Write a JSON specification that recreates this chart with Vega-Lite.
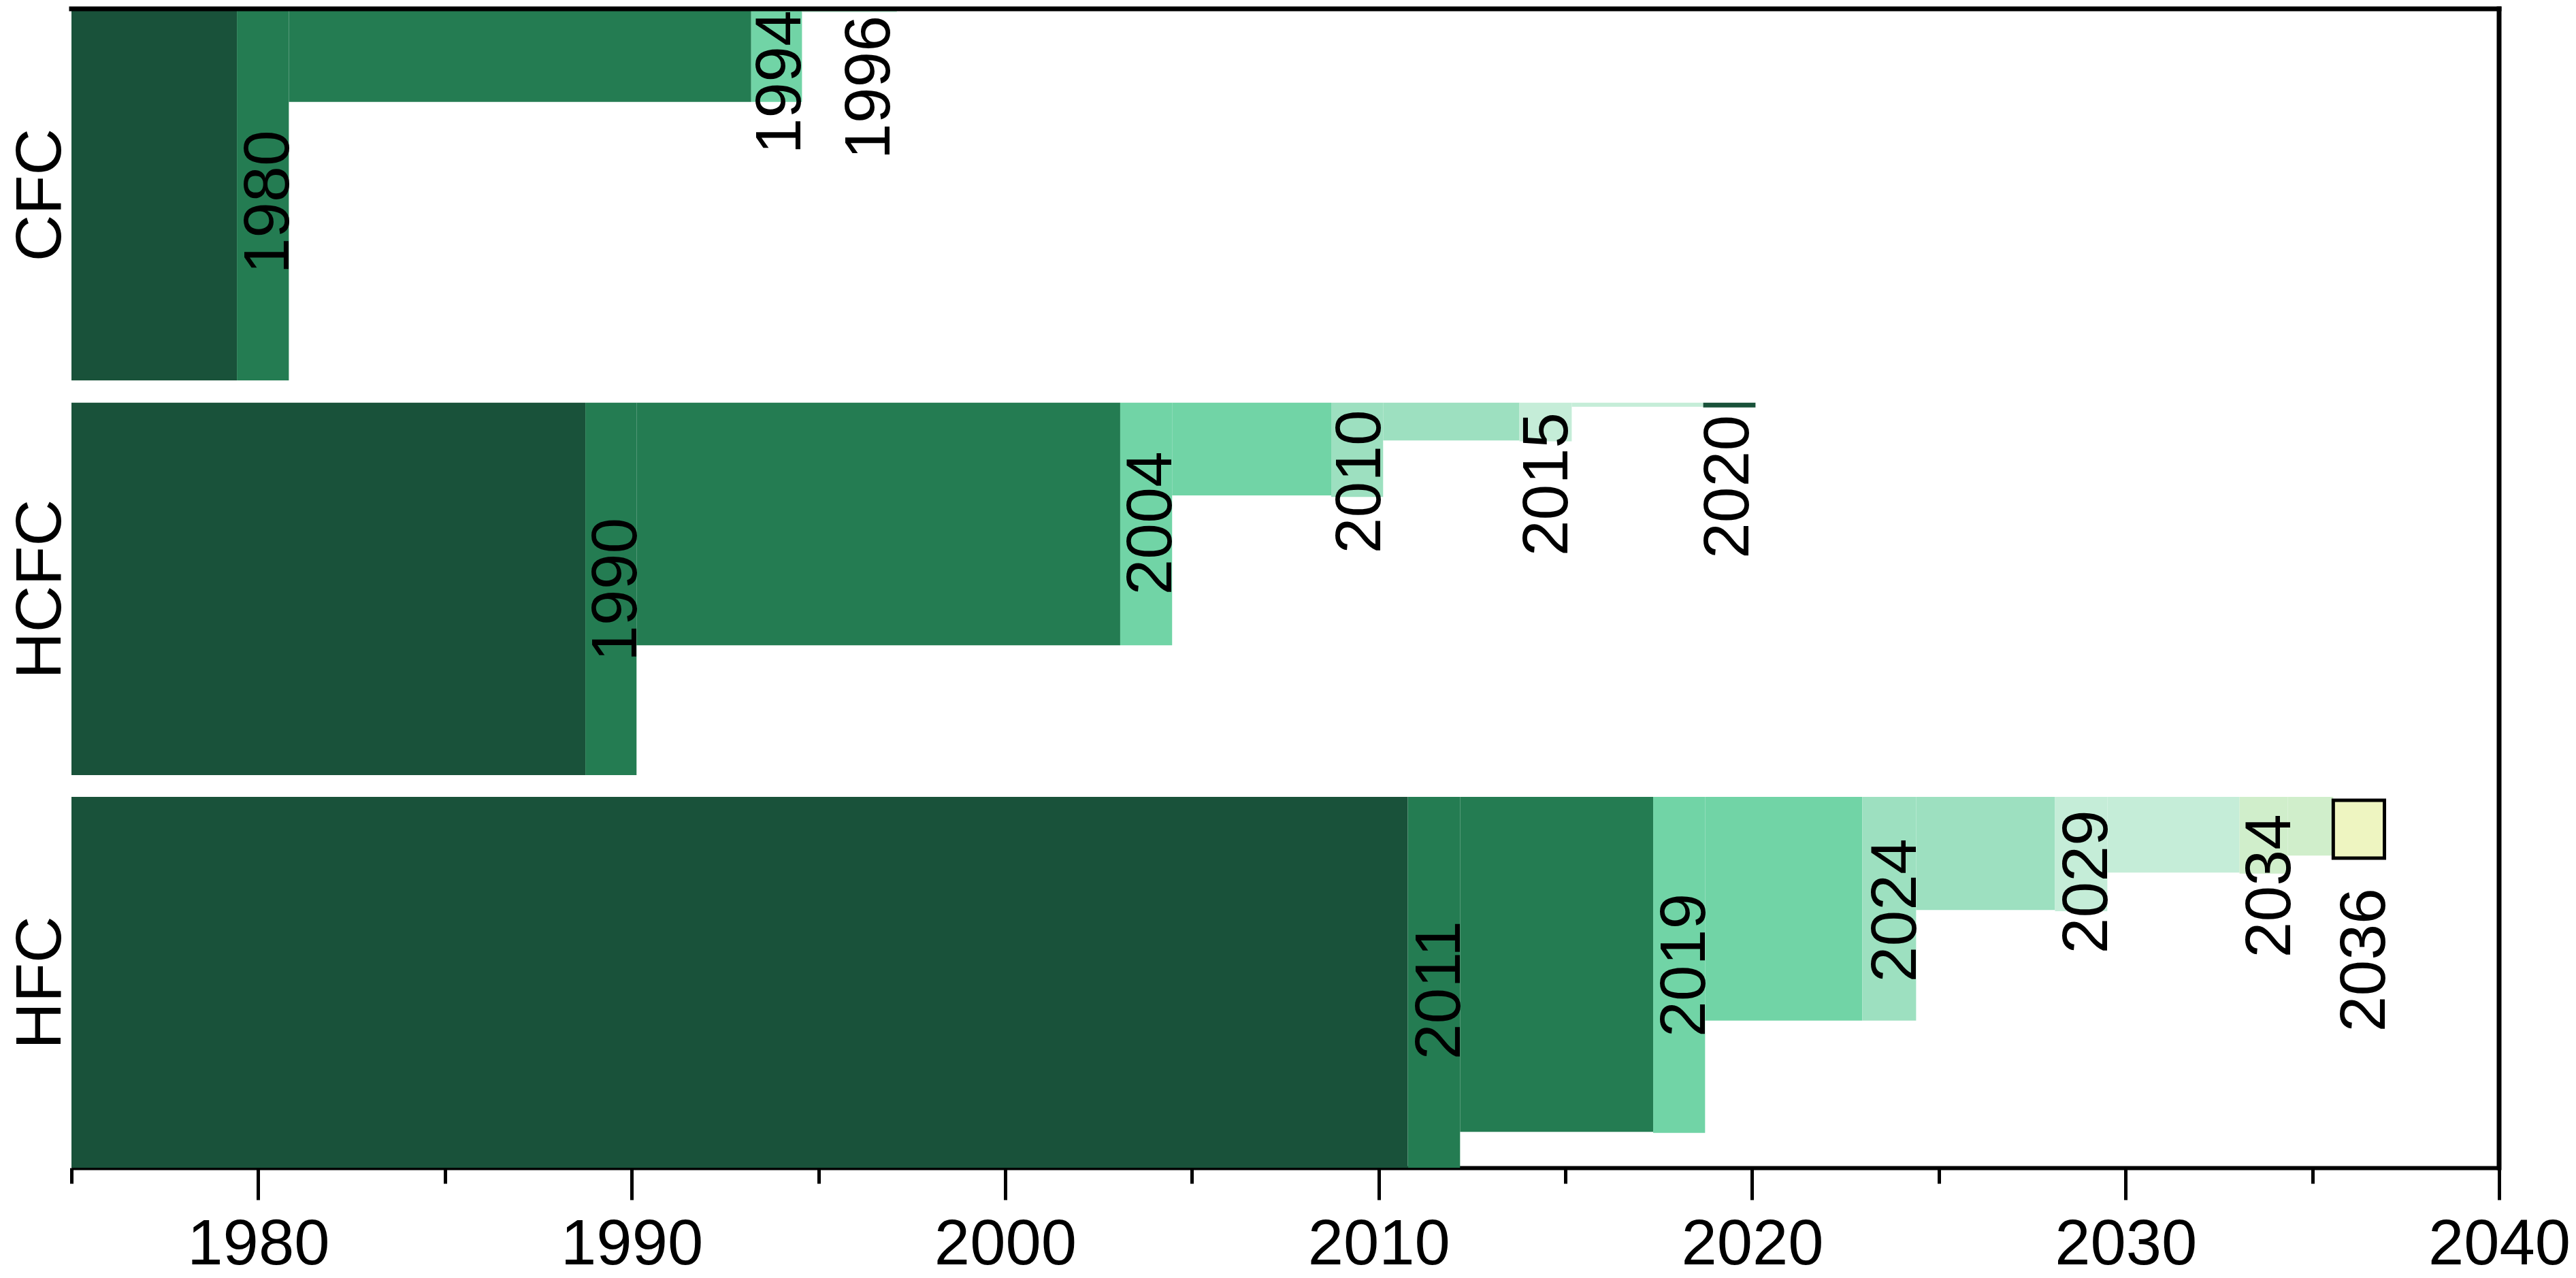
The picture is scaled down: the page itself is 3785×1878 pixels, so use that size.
{
  "$schema": "https://vega.github.io/schema/vega-lite/v6.json",
  "autosize": {"type": "none"},
  "width": 3567,
  "height": 1703,
  "padding": {"left": 105, "top": 13, "right": 113, "bottom": 162},
  "background": "white",
  "config": {"view": {"stroke": null}, "font": "Liberation Sans"},
  "datasets": {
    "rects": [
      {"row": "CFC", "x0": 1975, "x1": 1979.43, "y0": 0, "y1": 100.2, "phase": "p0"},
      {"row": "CFC", "x0": 1979.43, "x1": 1980.82, "y0": 0, "y1": 100.2, "phase": "p1"},
      {"row": "CFC", "x0": 1980.82, "x1": 1993.2, "y0": 0, "y1": 25.1, "phase": "p1"},
      {"row": "CFC", "x0": 1993.2, "x1": 1994.56, "y0": 0, "y1": 25.1, "phase": "p2"},
      {"row": "CFC", "x0": 1994.56, "x1": 1997.1, "y0": 0, "y1": 0.9, "phase": "p4"},
      {"row": "HCFC", "x0": 1975, "x1": 1988.76, "y0": 106.2, "y1": 206.6, "phase": "p0"},
      {"row": "HCFC", "x0": 1988.76, "x1": 1990.13, "y0": 106.2, "y1": 206.6, "phase": "p1"},
      {"row": "HCFC", "x0": 1990.13, "x1": 2003.08, "y0": 106.2, "y1": 171.6, "phase": "p1"},
      {"row": "HCFC", "x0": 2003.08, "x1": 2004.47, "y0": 106.2, "y1": 171.6, "phase": "p2"},
      {"row": "HCFC", "x0": 2004.47, "x1": 2008.73, "y0": 106.2, "y1": 131.2, "phase": "p2"},
      {"row": "HCFC", "x0": 2008.73, "x1": 2010.12, "y0": 106.2, "y1": 131.6, "phase": "p3"},
      {"row": "HCFC", "x0": 2010.12, "x1": 2013.77, "y0": 106.2, "y1": 116.4, "phase": "p3"},
      {"row": "HCFC", "x0": 2013.77, "x1": 2015.17, "y0": 106.2, "y1": 116.6, "phase": "p4"},
      {"row": "HCFC", "x0": 2015.17, "x1": 2018.69, "y0": 106.2, "y1": 107.3, "phase": "p4"},
      {"row": "HCFC", "x0": 2018.69, "x1": 2020.09, "y0": 106.2, "y1": 107.5, "phase": "p0"},
      {"row": "HFC", "x0": 1975, "x1": 2010.78, "y0": 212.5, "y1": 312.5, "phase": "p0"},
      {"row": "HFC", "x0": 2010.78, "x1": 2012.18, "y0": 212.5, "y1": 312.5, "phase": "p1"},
      {"row": "HFC", "x0": 2012.18, "x1": 2017.35, "y0": 212.5, "y1": 302.8, "phase": "p1"},
      {"row": "HFC", "x0": 2017.35, "x1": 2018.74, "y0": 212.5, "y1": 303.1, "phase": "p2"},
      {"row": "HFC", "x0": 2018.74, "x1": 2022.95, "y0": 212.5, "y1": 272.8, "phase": "p2"},
      {"row": "HFC", "x0": 2022.95, "x1": 2024.39, "y0": 212.5, "y1": 272.8, "phase": "p3"},
      {"row": "HFC", "x0": 2024.39, "x1": 2028.11, "y0": 212.5, "y1": 243.0, "phase": "p3"},
      {"row": "HFC", "x0": 2028.11, "x1": 2029.51, "y0": 212.5, "y1": 243.3, "phase": "p4"},
      {"row": "HFC", "x0": 2029.51, "x1": 2033.05, "y0": 212.5, "y1": 232.9, "phase": "p4"},
      {"row": "HFC", "x0": 2033.05, "x1": 2034.34, "y0": 212.5, "y1": 233.2, "phase": "p5"},
      {"row": "HFC", "x0": 2034.34, "x1": 2035.56, "y0": 212.5, "y1": 228.3, "phase": "p5"},
      {"row": "HFC", "x0": 2035.56, "x1": 2036.93, "y0": 213.4, "y1": 229.0, "phase": "p6"}
    ],
    "labels": [
      {"label": "1980", "x": 1980.82, "y": 32.7},
      {"label": "1994", "x": 1994.52, "y": 0.4},
      {"label": "1996", "x": 1996.9, "y": 1.8},
      {"label": "1990", "x": 1990.13, "y": 137.2},
      {"label": "2004", "x": 2004.45, "y": 119.3},
      {"label": "2010", "x": 2010.05, "y": 108.1},
      {"label": "2015", "x": 2015.05, "y": 108.8},
      {"label": "2020", "x": 2019.9, "y": 109.5},
      {"label": "2011", "x": 2012.18, "y": 245.9},
      {"label": "2019", "x": 2018.74, "y": 238.5},
      {"label": "2024", "x": 2024.39, "y": 223.7},
      {"label": "2029", "x": 2029.51, "y": 216.0},
      {"label": "2034", "x": 2034.4, "y": 217.1},
      {"label": "2036", "x": 2036.93, "y": 237.1}
    ]
  },
  "layer": [
    {
      "data": {"name": "rects"},
      "mark": {"type": "rect", "stroke": "black"},
      "encoding": {
        "x": {
          "field": "x0", "type": "quantitative",
          "scale": {"domain": [1975, 2040], "nice": false, "zero": false},
          "axis": {
            "title": null, "grid": false,
            "values": [1975, 1980, 1985, 1990, 1995, 2000, 2005, 2010, 2015, 2020, 2025, 2030, 2035, 2040],
            "format": "d",
            "labelExpr": "datum.value % 10 === 0 ? datum.label : ''",
            "tickSize": {"condition": {"test": "datum.value % 10 === 0", "value": 47}, "value": 23},
            "tickWidth": 5, "tickColor": "black",
            "domainColor": "black", "domainWidth": 6,
            "labelFontSize": 94, "labelFont": "Liberation Sans", "labelColor": "black",
            "labelPadding": 20, "labelOverlap": false, "labelFlush": false, "labelLimit": 0
          }
        },
        "x2": {"field": "x1"},
        "y": {
          "field": "y0", "type": "quantitative",
          "scale": {"domain": [0, 312.5], "reverse": true, "nice": false, "zero": false},
          "axis": {
            "title": null, "grid": false, "domain": false, "ticks": false, "tickSize": 0,
            "values": [50.1, 156.4, 262.5],
            "labelExpr": "datum.value < 100 ? 'CFC' : (datum.value < 200 ? 'HCFC' : 'HFC')",
            "labelAngle": 270, "labelAlign": "center", "labelBaseline": "alphabetic",
            "labelFontSize": 95, "labelFont": "Liberation Sans", "labelColor": "black",
            "labelPadding": 17, "labelLimit": 0, "labelOverlap": false
          }
        },
        "y2": {"field": "y1"},
        "color": {
          "field": "phase", "type": "nominal", "legend": null,
          "scale": {
            "domain": ["p0", "p1", "p2", "p3", "p4", "p5", "p6"],
            "range": ["#19523a", "#247c52", "#71d4a6", "#9de0c0", "#c5edd8", "#d0eecb", "#eef5c1"]
          }
        },
        "strokeWidth": {"condition": {"test": "datum.phase === 'p6'", "value": 5}, "value": 0}
      }
    },
    {
      "data": {"name": "labels"},
      "mark": {"type": "text", "angle": 270, "align": "right", "baseline": "alphabetic", "fontSize": 95, "font": "Liberation Sans", "color": "black"},
      "encoding": {
        "x": {"field": "x", "type": "quantitative"},
        "y": {"field": "y", "type": "quantitative"},
        "text": {"field": "label"}
      }
    },
    {
      "data": {"values": [{}]},
      "mark": {"type": "rule", "strokeWidth": 7, "color": "black", "strokeCap": "square"},
      "encoding": {"x": {"datum": 1975}, "x2": {"datum": 2040}, "y": {"datum": 0}}
    },
    {
      "data": {"values": [{}]},
      "mark": {"type": "rule", "strokeWidth": 7, "color": "black", "strokeCap": "square"},
      "encoding": {"x": {"datum": 2040}, "y": {"datum": 0}, "y2": {"datum": 312.5}}
    }
  ]
}
